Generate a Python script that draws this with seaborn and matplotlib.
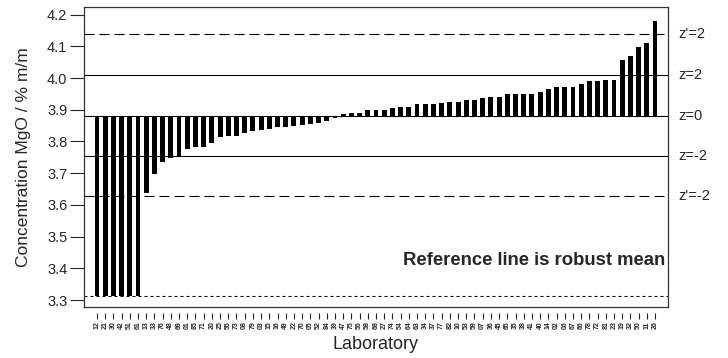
import matplotlib
matplotlib.use("Agg")
import matplotlib.pyplot as plt
import seaborn as sns
import pandas as pd

# Laboratórios ordenados pelo resultado (MgO, % m/m)
labs = ["12", "21", "30", "42", "51", "61", "13", "33", "76", "48",
        "69", "01", "85", "71", "20", "25", "55", "73", "08", "79",
        "03", "15", "16", "49", "22", "70", "05", "52", "84", "39",
        "47", "75", "56", "58", "68", "27", "74", "54", "64", "63",
        "34", "37", "77", "82", "10", "53", "59", "07", "36", "45",
        "65", "35", "38", "41", "40", "14", "02", "06", "67", "66",
        "78", "72", "81", "23", "19", "32", "50", "11", "26"]

valores = [3.314, 3.314, 3.314, 3.314, 3.314, 3.314, 3.638, 3.697, 3.735, 3.748,
           3.750, 3.776, 3.781, 3.784, 3.795, 3.815, 3.816, 3.817, 3.826, 3.834,
           3.835, 3.840, 3.846, 3.847, 3.848, 3.852, 3.855, 3.858, 3.866, 3.875,
           3.887, 3.889, 3.889, 3.898, 3.898, 3.898, 3.906, 3.910, 3.910, 3.919,
           3.919, 3.919, 3.922, 3.925, 3.925, 3.931, 3.931, 3.936, 3.940, 3.940,
           3.951, 3.951, 3.951, 3.951, 3.956, 3.964, 3.971, 3.971, 3.971, 3.980,
           3.991, 3.992, 3.993, 3.995, 4.056, 4.069, 4.098, 4.110, 4.179]

media_robusta = 3.881
linhas_z = [4.009, 3.753]          # z = 2 e z = -2
linhas_zlinha = [4.139, 3.629]     # z' = 2 e z' = -2
limite_inferior = 3.314
rotulos_dir = ["z'=2", "z=2", "z=0", "z=-2", "z'=-2"]
posicoes_dir = [4.139, 4.009, 3.881, 3.753, 3.629]
y_ticks = [3.3, 3.4, 3.5, 3.6, 3.7, 3.8, 3.9, 4.0, 4.1, 4.2]

sns.set_style("white")
plt.rcParams["font.family"] = ["Liberation Sans", "DejaVu Sans"]

df = pd.DataFrame({"lab": labs, "desvio": [v - media_robusta for v in valores]})

fig = plt.figure(figsize=(7.28, 3.58), dpi=100)
ax = fig.add_axes([84 / 728, 1 - 307 / 358, 584 / 728, 300 / 358])

sns.barplot(data=df, x="lab", y="desvio", order=labs, color="black",
            width=0.6, bottom=media_robusta, errorbar=None, ax=ax,
            edgecolor="none", saturation=1)

ax.axhline(media_robusta, color="black", lw=0.8)
for y in linhas_z:
    ax.axhline(y, color="black", lw=0.8)
for y in linhas_zlinha:
    ax.axhline(y, color="black", lw=0.8, ls=(0, (9, 4.5)))
ax.axhline(limite_inferior, color="black", lw=0.8, ls=(0, (2.7, 2.7)))

ax.set_xlim(-1.58, len(labs) - 1 + 1.58)
ax.set_ylim(3.278, 4.224)
ax.set_yticks(y_ticks)
ax.set_yticklabels([f"{t:.1f}" for t in y_ticks])
ax.tick_params(axis="y", direction="out", length=10, width=0.8, pad=2,
               labelsize=10.5, left=True)
ax.set_xticks([])
ax.set_xlabel("")
ax.set_ylabel("Concentration MgO / % m/m", fontsize=12.5)
ax.yaxis.set_label_coords(-0.09, 0.5)

for s in ax.spines.values():
    s.set_visible(True)
    s.set_color("#333333")
    s.set_linewidth(0.9)

# eixo x deslocado, estilo R
sec = ax.secondary_xaxis(-0.02)
sec.spines["bottom"].set_visible(False)
sec.set_xticks(range(len(labs)))
sec.set_xticklabels(labs, rotation=90, fontsize=5, fontweight="bold")
sec.tick_params(axis="x", direction="out", length=4, width=0.8, pad=2)
sec.set_xlabel("Laboratory", fontsize=13, labelpad=5)

for txt, y in zip(rotulos_dir, posicoes_dir):
    ax.text(1.017, y, txt, transform=ax.get_yaxis_transform(),
            va="center", ha="left", fontsize=10.5, clip_on=False)

ax.text(0.995, 0.155, "Reference line is robust mean", transform=ax.transAxes,
        ha="right", va="center", fontsize=13.3, fontweight="bold")

fig.savefig("out.png", dpi=100)
